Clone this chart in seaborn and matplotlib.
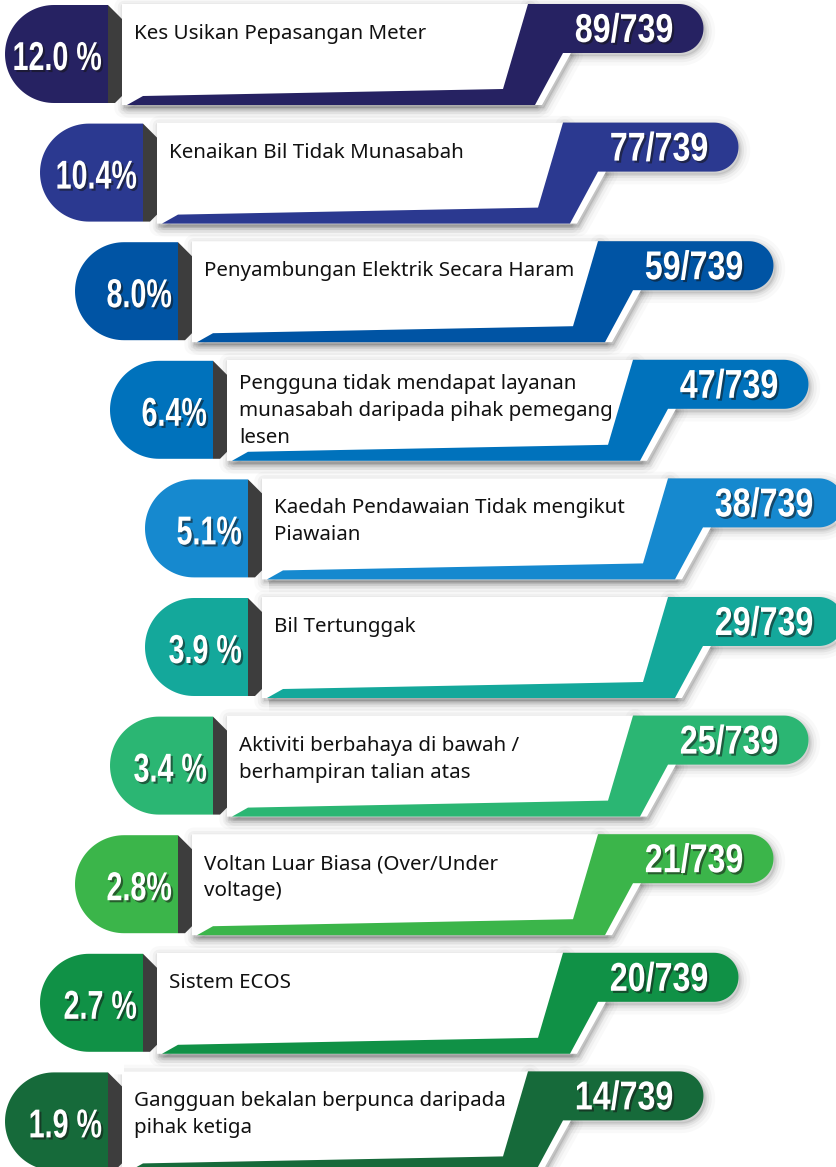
import numpy as np
import matplotlib
matplotlib.use("Agg")
import matplotlib.pyplot as plt
import seaborn as sns
from matplotlib.patches import Polygon
from matplotlib import patheffects as pe
from matplotlib.colors import to_rgb
from matplotlib.transforms import Affine2D

# Complaint categories, share of cases and case counts
labels = [
    "Kes Usikan Pepasangan Meter",
    "Kenaikan Bil Tidak Munasabah",
    "Penyambungan Elektrik Secara Haram",
    "Pengguna tidak mendapat layanan\nmunasabah daripada pihak pemegang\nlesen",
    "Kaedah Pendawaian Tidak mengikut\nPiawaian",
    "Bil Tertunggak",
    "Aktiviti berbahaya di bawah /\nberhampiran talian atas",
    "Voltan Luar Biasa (Over/Under\nvoltage)",
    "Sistem ECOS",
    "Gangguan bekalan berpunca daripada\npihak ketiga",
]
pct_labels = ["12.0 %", "10.4%", "8.0%", "6.4%", "5.1%",
              "3.9 %", "3.4 %", "2.8%", "2.7 %", "1.9 %"]
counts = [89, 77, 59, 47, 38, 29, 25, 21, 20, 14]
total = 739

row_colors = ["#262262", "#2b3990", "#0054a4", "#0072bc", "#1689cf",
              "#14a89b", "#2bb673", "#3bb54a", "#109146", "#166a3a"]

sns.set_theme(style="white")
palette = sns.color_palette(row_colors)
plt.rcParams["font.family"] = ["Noto Sans", "DejaVu Sans"]
NUM_FONT = ["Liberation Sans", "DejaVu Sans"]

fig = plt.figure(figsize=(8.36, 11.67), dpi=100)
ax = fig.add_axes([0, 0, 1, 1])
ax.set_xlim(0, 836)
ax.set_ylim(1167, 0)
ax.axis("off")

PITCH = 118.6
TOP0 = 4.0


class CondensedShadow(pe.AbstractPathEffect):
    """Rescale glyphs about an anchor (condensed look) and add a drop shadow."""

    def __init__(self, anchor_xy, sx=0.8, sy=1.0, offset=(1.5, -1.5),
                 shadow="#151515", alpha=0.55):
        super().__init__()
        self.anchor_xy = anchor_xy
        self.sx = sx
        self.sy = sy
        self.off = offset
        self.shadow = to_rgb(shadow)
        self.alpha = alpha

    def draw_path(self, renderer, gc, tpath, affine, rgbFace=None):
        x0, y0 = ax.transData.transform(self.anchor_xy)
        squeeze = (Affine2D().translate(-x0, -y0)
                   .scale(self.sx, self.sy).translate(x0, y0))
        aff = affine + squeeze
        gc0 = renderer.new_gc()
        gc0.copy_properties(gc)
        gc0.set_alpha(self.alpha)
        gc0.set_linewidth(0)
        pts = renderer.points_to_pixels
        sh = aff + Affine2D().translate(pts(self.off[0]), pts(self.off[1]))
        renderer.draw_path(gc0, tpath, sh, self.shadow)
        gc0.restore()
        renderer.draw_path(gc, tpath, aff, rgbFace)


def cap_points(dx, y0):
    r = 49.0
    cx, cy = dx + 5 + r, y0 + 50
    t = np.linspace(np.pi / 2, 3 * np.pi / 2, 60)
    pts = list(zip(cx + r * np.cos(t), cy - r * np.sin(t)))
    pts += [(dx + 108, cy + r), (dx + 108, cy - r)]
    return pts


def band_points(dx, y0):
    r = 24.5
    pts = [(dx + 127, y0 + 101), (dx + 143, y0 + 92), (dx + 503, y0 + 85),
           (dx + 528, y0), (dx + 679, y0)]
    t = np.linspace(-np.pi / 2, np.pi / 2, 40)
    pts += list(zip(dx + 679 + r * np.cos(t), y0 + r + r * np.sin(t)))
    pts += [(dx + 563, y0 + 49), (dx + 535, y0 + 101)]
    return pts


def card_points(dx, y0):
    return [(dx + 122, y0), (dx + 528, y0), (dx + 571, y0 + 49),
            (dx + 542, y0 + 101), (dx + 122, y0 + 101)]


def soft_shadow(pts, dx_off=2, dy_off=3):
    shifted = [(x + dx_off, y + dy_off) for x, y in pts]
    for lw, a in [(14, 0.025), (9, 0.035), (5, 0.05), (2, 0.06)]:
        ax.add_patch(Polygon(shifted, closed=True, facecolor="none",
                             edgecolor="black", alpha=a, lw=lw,
                             joinstyle="round", zorder=1))
    ax.add_patch(Polygon(shifted, closed=True, facecolor="black",
                         edgecolor="none", alpha=0.08, zorder=1))


for i, (lab, pct, n, col) in enumerate(zip(labels, pct_labels, counts, palette)):
    dx = 35 * min(i, 9 - i)
    y0 = TOP0 + PITCH * i

    card = card_points(dx, y0)
    band = band_points(dx, y0)
    soft_shadow(card)
    soft_shadow(band)
    ax.add_patch(Polygon(card, closed=True, facecolor="white",
                         edgecolor="none", zorder=2))
    ax.add_patch(Polygon(band, closed=True, facecolor=col,
                         edgecolor="none", zorder=3))
    ax.add_patch(Polygon(cap_points(dx, y0), closed=True, facecolor=col,
                         edgecolor="none", zorder=3))
    ax.add_patch(Polygon([(dx + 108, y0 + 1), (dx + 122, y0 + 15),
                          (dx + 122, y0 + 92), (dx + 115, y0 + 99),
                          (dx + 108, y0 + 99)], closed=True,
                         facecolor="#3d3d3d", edgecolor="none", zorder=3))

    lines = lab.split("\n")
    base = y0 + (29 if len(lines) > 2 else 35)
    for k, line in enumerate(lines):
        ax.text(dx + 134, base + 27 * k, line, fontsize=14.8, color="#111111",
                ha="left", va="baseline", zorder=5)

    px, py = dx + 102, y0 + 66
    ax.text(px, py, pct, fontsize=24, fontweight="bold", family=NUM_FONT,
            color="white", ha="right", va="baseline", zorder=5,
            path_effects=[CondensedShadow((px, py), sx=0.86, sy=1.21)])
    fx, fy = dx + 624, y0 + 38
    ax.text(fx, fy, f"{n}/{total}", fontsize=29, fontweight="bold",
            family=NUM_FONT, color="white", ha="center", va="baseline",
            zorder=5, path_effects=[CondensedShadow((fx, fy), sx=0.8)])

fig.savefig("out.png", dpi=100)
